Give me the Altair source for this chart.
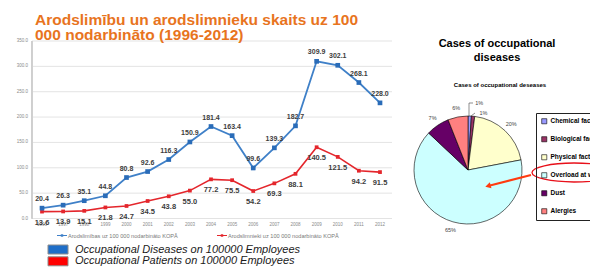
import altair as alt
import pandas as pd

# ---------------- data ----------------
years = [str(y) for y in range(1996, 2013)]
diseases = [20.4, 26.3, 35.1, 44.8, 80.8, 92.6, 116.3, 150.9, 181.4, 163.4,
            99.6, 139.3, 182.7, 309.9, 302.1, 268.1, 228.0]
patients = [13.6, 13.9, 15.1, 21.8, 24.7, 34.5, 43.8, 55.0, 77.2, 75.5,
            54.2, 69.3, 88.1, 140.5, 121.5, 94.2, 91.5]
y_ticks = [0, 50, 100, 150, 200, 250, 300, 350]

pie_cats = ["Chemical factors", "Biological factors", "Physical factors",
            "Overload at work", "Dust", "Alergies"]
pie_pct = [1, 1, 20, 65, 7, 6]
pie_colors = ["#9999ff", "#993366", "#ffffcc", "#ccffff", "#660066", "#ff8080"]

title_lines = ["Arodslimību un arodslimnieku skaits uz 100", "000 nodarbināto (1996-2012)"]
series_names = ["Arodslimības uz 100 000 nodarbināto KOPĀ",
                "Arodslimnieki uz 100 000 nodarbināto KOPĀ"]
bottom_labels = ["Occupational Diseases on 100000 Employees",
                 "Occupational Patients on 100000 Employees"]
bottom_colors = ["#1e6ec8", "#ff0000"]

BLUE = "#3f80c8"
RED = "#e4262c"
ORANGE = "#e8741e"
FONT = "Liberation Sans"

line_df = pd.DataFrame({"year": years, "dis": diseases, "pat": patients})
tick_df = pd.DataFrame({"v": y_ticks})
pie_df = pd.DataFrame({
    "cat": pie_cats, "pct": pie_pct, "idx": list(range(len(pie_cats))),
    "lbl_main": ["", "", "20%", "65%", "7%", "6%"],
    "lbl_a": ["1%", "", "", "", "", ""],
    "lbl_b": ["", "1%", "", "", "", ""],
})

xs = alt.Scale(type="point", domain=years, range=[34, 372], padding=0)
ys = alt.Scale(domain=[0, 350], range=[210.5, 33], nice=False, zero=True)
X = alt.X("year:O", scale=xs, axis=None)

layers = []

# gridlines
layers.append(alt.Chart(tick_df).mark_rule(color="#dcdcdc", strokeWidth=0.8).encode(
    y=alt.Y("v:Q", scale=ys, axis=None), x=alt.value(24), x2=alt.value(384)))
# axis line
layers.append(alt.Chart(tick_df).mark_rule(color="#cfcfcf", strokeWidth=0.8).encode(
    x=alt.value(24), y=alt.value(33), y2=alt.value(210.5)))
# y tick labels
layers.append(alt.Chart(tick_df).mark_text(align="right", baseline="middle", fontSize=4.5,
                                           color="#8a8a8a", font=FONT).encode(
    y=alt.Y("v:Q", scale=ys, axis=None), x=alt.value(20), text=alt.Text("v:Q", format=".1f")))
# year labels
layers.append(alt.Chart(line_df).mark_text(baseline="middle", fontSize=4.5, color="#8a8a8a",
                                           font=FONT).encode(
    x=X, y=alt.value(217), text="year:N"))

# lines
layers.append(alt.Chart(line_df).mark_line(color=RED, strokeWidth=1.6,
    point=alt.OverlayMarkDef(shape="square", size=14, color=RED, filled=True)).encode(
    x=X, y=alt.Y("pat:Q", scale=ys, axis=None)))
layers.append(alt.Chart(line_df).mark_line(color=BLUE, strokeWidth=1.8,
    point=alt.OverlayMarkDef(shape="square", size=22, color="#2a6cb8", filled=True)).encode(
    x=X, y=alt.Y("dis:Q", scale=ys, axis=None)))
# value labels
layers.append(alt.Chart(line_df).mark_text(dy=-9, fontSize=7, fontWeight="bold", color="#3c3c3c",
                                           font=FONT).encode(
    x=X, y=alt.Y("dis:Q", scale=ys, axis=None), text=alt.Text("dis:Q", format=".1f")))
layers.append(alt.Chart(line_df).mark_text(dy=11, fontSize=7.5, fontWeight="bold", color="#3c3c3c",
                                           font=FONT).encode(
    x=X, y=alt.Y("pat:Q", scale=ys, axis=None), text=alt.Text("pat:Q", format=".1f")))

# title
for i, t in enumerate(title_lines):
    layers.append(alt.Chart(pd.DataFrame({"t": [t]})).mark_text(
        align="left", baseline="alphabetic", fontSize=15.5, fontWeight="bold",
        color=ORANGE, font=FONT).encode(x=alt.value(27), y=alt.value(16.5 + 15 * i), text="t:N"))

# small series legend
for i, (nm, col, x0) in enumerate(zip(series_names, [BLUE, RED], [49, 209])):
    d = pd.DataFrame({"t": [nm]})
    layers.append(alt.Chart(d).mark_rule(color=col, strokeWidth=1).encode(
        x=alt.value(x0), x2=alt.value(x0 + 10), y=alt.value(227.5)))
    layers.append(alt.Chart(d).mark_point(shape="square", size=6, filled=True, color=col, opacity=1).encode(
        x=alt.value(x0 + 5), y=alt.value(227.5)))
    layers.append(alt.Chart(d).mark_text(align="left", baseline="middle", fontSize=5.6,
                                         color="#7a7a7a", font=FONT).encode(
        x=alt.value(x0 + 11), y=alt.value(227.5), text="t:N"))

# bottom legend
for i, (lab, col) in enumerate(zip(bottom_labels, bottom_colors)):
    d = pd.DataFrame({"t": [lab]})
    yc = 241.5 + 11.8 * i
    layers.append(alt.Chart(d).mark_rect(color=col, stroke="#8c8c8c", strokeWidth=1).encode(
        x=alt.value(40), x2=alt.value(60), y=alt.value(yc - 4.5), y2=alt.value(yc + 4.5)))
    layers.append(alt.Chart(d).mark_text(align="left", baseline="middle", fontSize=11,
                                         fontStyle="italic", color="#1a1a1a", font=FONT).encode(
        x=alt.value(67), y=alt.value(yc), text="t:N"))

# right titles
for i, t in enumerate(["Cases of occupational", "diseases"]):
    layers.append(alt.Chart(pd.DataFrame({"t": [t]})).mark_text(
        baseline="alphabetic", fontSize=11, fontWeight="bold", color="#000", font=FONT).encode(
        x=alt.value(489), y=alt.value(39 + 14 * i), text="t:N"))
layers.append(alt.Chart(pd.DataFrame({"t": ["Cases of occupational deseases"]})).mark_text(
    baseline="middle", fontSize=6, fontWeight="bold", color="#000", font=FONT).encode(
    x=alt.value(492), y=alt.value(77), text="t:N"))

# pie
CX, CY = 460, 162
theta = alt.Theta("pct:Q", stack=True)
order = alt.Order("idx:Q")
layers.append(alt.Chart(pie_df).mark_arc(outerRadius=54, stroke="#000", strokeWidth=0.6).encode(
    theta=theta, order=order,
    color=alt.Color("cat:N", scale=alt.Scale(domain=pie_cats, range=pie_colors), sort=pie_cats,
                    legend=alt.Legend(orient="none", legendX=528, legendY=105, title=None,
                                      direction="vertical", symbolType="square", symbolSize=26,
                                      symbolStrokeColor="#000", symbolStrokeWidth=0.6,
                                      labelFont=FONT, labelFontSize=6.5, labelFontWeight="bold",
                                      labelColor="#000", rowPadding=10, padding=5,
                                      labelOffset=3, symbolOffset=0,
                                      strokeColor="#222", labelLimit=200,
                                      symbolOpacity=1)),
    x=alt.value(CX), y=alt.value(CY)))
for field, rad, dx in [("lbl_main", 63, 0), ("lbl_a", 67, 9), ("lbl_b", 57, 10)]:
    layers.append(alt.Chart(pie_df).mark_text(radius=rad, dx=dx, fontSize=5.5, color="#444",
                                              font=FONT).encode(
        theta=theta, order=order, text=f"{field}:N", x=alt.value(CX), y=alt.value(CY)))
# leader lines for the 1% labels
lead = pd.DataFrame({"t": ["a"]})
layers.append(alt.Chart(lead).mark_rule(color="#444", strokeWidth=0.6).encode(
    x=alt.value(461), y=alt.value(95), y2=alt.value(108)))
layers.append(alt.Chart(lead).mark_rule(color="#444", strokeWidth=0.6).encode(
    x=alt.value(461), x2=alt.value(465), y=alt.value(95)))
layers.append(alt.Chart(lead).mark_rule(color="#444", strokeWidth=0.6).encode(
    x=alt.value(463), x2=alt.value(467), y=alt.value(108), y2=alt.value(105)))

# red ellipse around "Overload at work" and arrow
ell = ("M -1 0 C -1 -0.125 -0.552 -0.226 0 -0.226 C 0.552 -0.226 1 -0.125 1 0 "
       "C 1 0.125 0.552 0.226 0 0.226 C -0.552 0.226 -1 0.125 -1 0 Z")
layers.append(alt.Chart(lead).mark_point(shape=ell, size=7056, filled=False, color="#e8101a",
                                         strokeWidth=1.3, opacity=1).encode(
    x=alt.value(566), y=alt.value(164.5)))
layers.append(alt.Chart(lead).mark_rule(color="#ff3b10", strokeWidth=2).encode(
    x=alt.value(523), x2=alt.value(482), y=alt.value(167), y2=alt.value(177.5)))
layers.append(alt.Chart(lead).mark_point(shape="triangle-left", size=40, filled=True,
                                         color="#ff3b10", opacity=1, angle=345).encode(
    x=alt.value(480), y=alt.value(178)))

chart = alt.layer(*layers).properties(
    width=582, height=259, autosize="none", padding=0
).configure_view(stroke=None)

chart.save("out.html", embed_options={"renderer": "svg", "actions": False})
